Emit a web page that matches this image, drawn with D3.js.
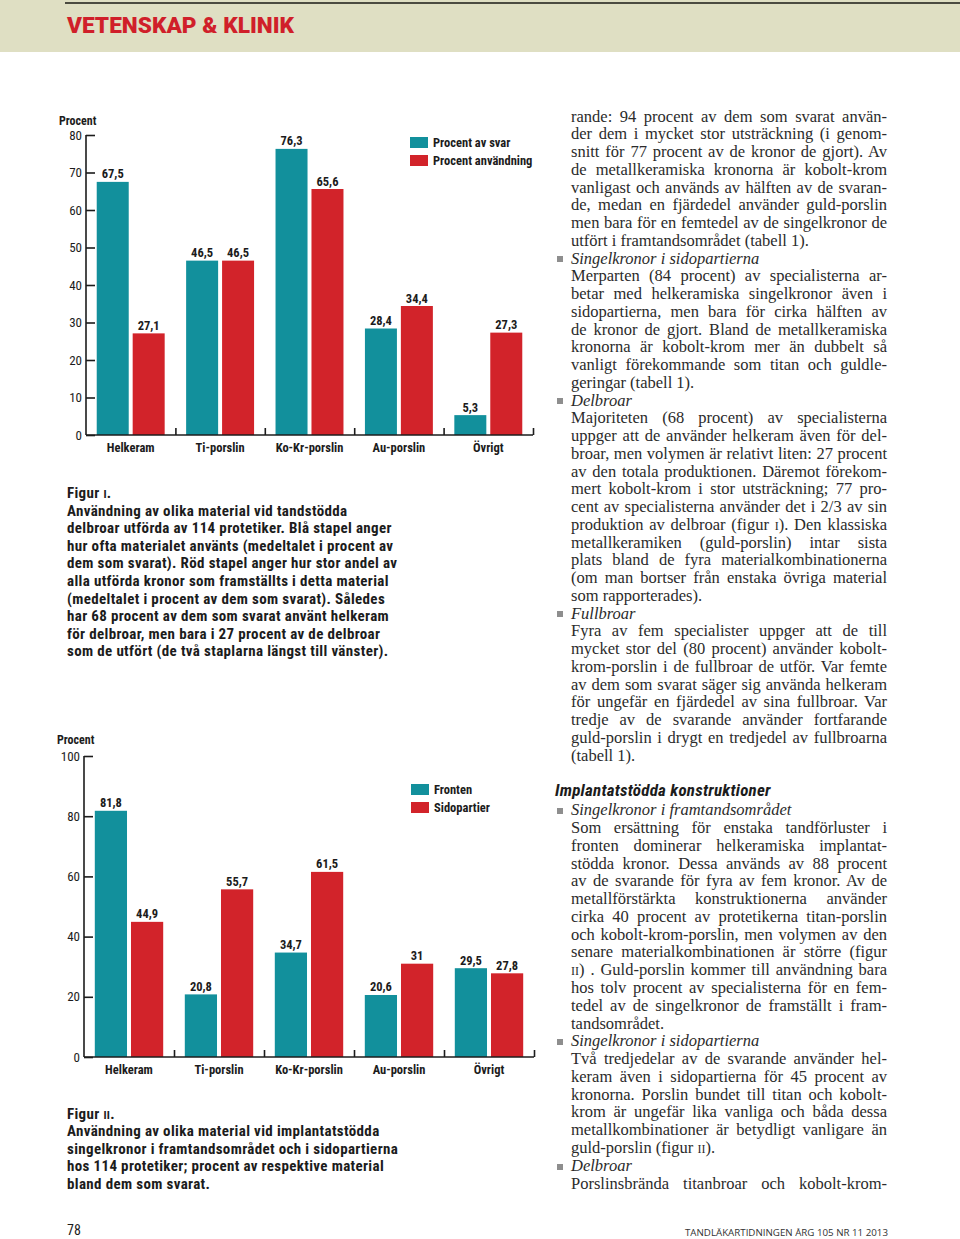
<!DOCTYPE html>
<html><head><meta charset="utf-8">
<script src="https://cdn.jsdelivr.net/npm/d3@7"></script>
<style>
body{margin:0;background:#fff;}
#page{position:relative;width:960px;height:1239px;overflow:hidden;background:#fff;}
svg{position:absolute;left:0;top:0;}
.ln{position:absolute;left:571px;width:316px;font-family:'Liberation Serif','Times New Roman',serif;font-size:16.5px;color:#2b2b2b;white-space:nowrap;line-height:18px;height:18px;}
.j{text-align:justify;text-align-last:justify;}
.it{font-style:italic;}
.sc{font-variant:small-caps;}
.bul{position:absolute;left:557px;width:6px;height:6px;background:#8e8e8e;}
</style></head>
<body><div id="page"><svg id="svg" width="960" height="1239"></svg></div>
<script>
// ---------- data ----------
const categories = ["Helkeram","Ti-porslin","Ko-Kr-porslin","Au-porslin","Övrigt"];
const fig1Series = ["Procent av svar","Procent användning"];
const fig1Svar = [67.5,46.5,76.3,28.4,5.3];
const fig1Anvandning = [27.1,46.5,65.6,34.4,27.3];
const fig1Ticks = [0,10,20,30,40,50,60,70,80];
const fig2Series = ["Fronten","Sidopartier"];
const fig2Fronten = [81.8,20.8,34.7,20.6,29.5];
const fig2Sidopartier = [44.9,55.7,61.5,31,27.8];
const fig2Ticks = [0,20,40,60,80,100];

const fig1Caption = ["Användning av olika material vid tandstödda",
 "delbroar utförda av 114 protetiker. Blå stapel anger",
 "hur ofta materialet använts (medeltalet i procent av",
 "dem som svarat). Röd stapel anger hur stor andel av",
 "alla utförda kronor som framställts i detta material",
 "(medeltalet i procent av dem som svarat). Således",
 "har 68 procent av dem som svarat använt helkeram",
 "för delbroar, men bara i 27 procent av de delbroar",
 "som de utfört (de två staplarna längst till vänster)."];
const fig2Caption = ["Användning av olika material vid implantatstödda",
 "singelkronor i framtandsområdet och i sidopartierna",
 "hos 114 protetiker; procent av respektive material",
 "bland dem som svarat."];

const block1 = [
 ["j","rande: 94 procent av dem som svarat använ-"],
 ["j","der dem i mycket stor utsträckning (i genom-"],
 ["j","snitt för 77 procent av de kronor de gjort). Av"],
 ["j","de metallkeramiska kronorna är kobolt-krom"],
 ["j","vanligast och används av hälften av de svaran-"],
 ["j","de, medan en fjärdedel använder guld-porslin"],
 ["j","men bara för en femtedel av de singelkronor de"],
 ["l","utfört i framtandsområdet (tabell 1)."],
 ["h","Singelkronor i sidopartierna"],
 ["j","Merparten (84 procent) av specialisterna ar-"],
 ["j","betar med helkeramiska singelkronor även i"],
 ["j","sidopartierna, men bara för cirka hälften av"],
 ["j","de kronor de gjort. Bland de metallkeramiska"],
 ["j","kronorna är kobolt-krom mer än dubbelt så"],
 ["j","vanligt förekommande som titan och guldle-"],
 ["l","geringar (tabell 1)."],
 ["h","Delbroar"],
 ["j","Majoriteten (68 procent) av specialisterna"],
 ["j","uppger att de använder helkeram även för del-"],
 ["j","broar, men volymen är relativt liten: 27 procent"],
 ["j","av den totala produktionen. Däremot förekom-"],
 ["j","mert kobolt-krom i stor utsträckning; 77 pro-"],
 ["j","cent av specialisterna använder det i 2/3 av sin"],
 ["j","produktion av delbroar (figur <span class='sc'>i</span>). Den klassiska"],
 ["j","metallkeramiken (guld-porslin) intar sista"],
 ["j","plats bland de fyra materialkombinationerna"],
 ["j","(om man bortser från enstaka övriga material"],
 ["l","som rapporterades)."],
 ["h","Fullbroar"],
 ["j","Fyra av fem specialister uppger att de till"],
 ["j","mycket stor del (80 procent) använder kobolt-"],
 ["j","krom-porslin i de fullbroar de utför. Var femte"],
 ["j","av dem som svarat säger sig använda helkeram"],
 ["j","för ungefär en fjärdedel av sina fullbroar. Var"],
 ["j","tredje av de svarande använder fortfarande"],
 ["j","guld-porslin i drygt en tredjedel av fullbroarna"],
 ["l","(tabell 1)."]
];
const block2 = [
 ["h","Singelkronor i framtandsområdet"],
 ["j","Som ersättning för enstaka tandförluster i"],
 ["j","fronten dominerar helkeramiska implantat-"],
 ["j","stödda kronor. Dessa används av 88 procent"],
 ["j","av de svarande för fyra av fem kronor. Av de"],
 ["j","metallförstärkta konstruktionerna använder"],
 ["j","cirka 40 procent av protetikerna titan-porslin"],
 ["j","och kobolt-krom-porslin, men volymen av den"],
 ["j","senare materialkombinationen är större (figur"],
 ["j","<span class='sc'>ii</span>) . Guld-porslin kommer till användning bara"],
 ["j","hos tolv procent av specialisterna för en fem-"],
 ["j","tedel av de singelkronor de framställt i fram-"],
 ["l","tandsområdet."],
 ["h","Singelkronor i sidopartierna"],
 ["j","Två tredjedelar av de svarande använder hel-"],
 ["j","keram även i sidopartierna för 45 procent av"],
 ["j","kronorna. Porslin bundet till titan och kobolt-"],
 ["j","krom är ungefär lika vanliga och båda dessa"],
 ["j","metallkombinationer är betydligt vanligare än"],
 ["l","guld-porslin (figur <span class='sc'>ii</span>)."],
 ["h","Delbroar"],
 ["j","Porslinsbrända titanbroar och kobolt-krom-"]
];

// ---------- styles ----------
const TEAL = "#12909c", RED = "#d2232a", INK = "#1c1c1c";
const CF = "'Liberation Sans Narrow','Arial Narrow','Roboto Condensed','Open Sans',sans-serif";

const svg = d3.select("#svg");

// header
svg.append("rect").attr("x",0).attr("y",0).attr("width",960).attr("height",52).attr("fill","#dfdfc3");
svg.append("line").attr("x1",65).attr("x2",960).attr("y1",3).attr("y2",3).attr("stroke","#4b4b40").attr("stroke-width",2);
svg.append("text").attr("x",67).attr("y",33).text("VETENSKAP & KLINIK")
  .attr("font-family","Roboto, 'DejaVu Sans', sans-serif").attr("font-weight",900).attr("font-size",22)
  .attr("fill","#d01f2a").attr("textLength",227).attr("lengthAdjust","spacingAndGlyphs");

function fmt(v){ return String(v).replace(".",","); }

function drawChart(cfg){
  const g = svg.append("g");
  const y = d3.scaleLinear().domain([0,cfg.max]).range([cfg.yb, cfg.yt]);
  const x = d3.scaleBand().domain(categories).range([cfg.x0,cfg.x1]).padding(0);
  const bw = x.bandwidth();
  const xs = d3.scaleBand().domain(cfg.series).range([bw*0.12, bw*0.88]).paddingInner(0.11);
  const data = categories.map((c,i)=>({c, vals: cfg.series.map((s,k)=>({s, v: cfg.values[k][i]}))}));
  const colors = d3.scaleOrdinal().domain(cfg.series).range([TEAL,RED]);

  const grp = g.selectAll("g.grp").data(data).join("g").attr("transform",d=>`translate(${x(d.c)},0)`);
  grp.selectAll("rect").data(d=>d.vals).join("rect")
    .attr("x",d=>xs(d.s)).attr("y",d=>y(d.v)).attr("width",xs.bandwidth()).attr("height",d=>y(0)-y(d.v))
    .attr("fill",d=>colors(d.s));
  grp.selectAll("text.val").data(d=>d.vals).join("text").attr("class","val")
    .attr("x",d=>xs(d.s)+xs.bandwidth()/2).attr("y",d=>y(d.v)-3.5)
    .attr("text-anchor","middle").attr("font-family",CF).attr("font-weight",700).attr("font-size",12.5)
    .attr("fill",INK).text(d=>fmt(d.v));

  // y axis
  const ya = g.append("g").attr("transform",`translate(${cfg.x0},0)`)
    .call(d3.axisRight(y).tickValues(cfg.ticks).tickSize(9).tickFormat(""));
  ya.select(".domain").attr("stroke",INK).attr("stroke-width",1.6).attr("d",`M0,${cfg.yb}V${cfg.yt}`);
  ya.selectAll(".tick line").attr("stroke",INK).attr("stroke-width",1.6);
  g.selectAll("text.yl").data(cfg.ticks).join("text").attr("class","yl")
    .attr("x",cfg.x0-4).attr("y",d=>y(d)+4.5).attr("text-anchor","end")
    .attr("font-family",CF).attr("font-weight",400).attr("font-size",13).attr("fill",INK).text(d=>d);
  g.append("text").attr("x",cfg.titleX).attr("y",cfg.titleY).text("Procent")
    .attr("font-family",CF).attr("font-weight",700).attr("font-size",12).attr("fill",INK);

  // x axis
  const xa = g.append("g").attr("transform",`translate(0,${cfg.yb})`)
    .call(d3.axisTop(d3.scaleLinear().domain([0,categories.length]).range([cfg.x0,cfg.x1]))
      .tickValues(d3.range(1,categories.length+1)).tickSize(7).tickFormat(""));
  xa.select(".domain").attr("stroke",INK).attr("stroke-width",1.6).attr("d",`M${cfg.x0},0H${cfg.x1}`);
  xa.selectAll(".tick line").attr("stroke",INK).attr("stroke-width",1.6);
  g.selectAll("text.cat").data(categories).join("text").attr("class","cat")
    .attr("x",d=>x(d)+bw/2).attr("y",cfg.yb+17).attr("text-anchor","middle")
    .attr("font-family",CF).attr("font-weight",700).attr("font-size",12.5).attr("fill",INK).text(d=>d);

  // legend
  const lg = g.selectAll("g.lg").data(cfg.series).join("g").attr("class","lg")
    .attr("transform",(d,i)=>`translate(${cfg.lx},${cfg.ly+i*18})`);
  lg.append("rect").attr("width",18).attr("height",11).attr("fill",d=>colors(d));
  lg.append("text").attr("x",23).attr("y",10).attr("font-family",CF).attr("font-weight",700)
    .attr("font-size",12.5).attr("fill",INK).text(d=>d);
}

drawChart({x0:86,x1:533,yb:435,yt:135,max:80,ticks:fig1Ticks,series:fig1Series,
  values:[fig1Svar,fig1Anvandning],lx:410,ly:137,titleX:59,titleY:125});
drawChart({x0:84,x1:534,yb:1057,yt:756,max:100,ticks:fig2Ticks,series:fig2Series,
  values:[fig2Fronten,fig2Sidopartier],lx:411,ly:784,titleX:57,titleY:744});

// captions
function caption(title, roman, lines, y0){
  const t = svg.append("text").attr("x",67).attr("y",y0).attr("font-family",CF).attr("font-weight",700)
    .attr("font-size",15).attr("letter-spacing",0.35).attr("fill",INK);
  t.append("tspan").text(title+" ");
  t.append("tspan").attr("font-size",11.5).text(roman);
  t.append("tspan").text(".");
  svg.selectAll(null).data(lines).join("text").attr("x",67).attr("y",(d,i)=>y0+17.6*(i+1))
    .attr("font-family",CF).attr("font-weight",700).attr("font-size",15).attr("letter-spacing",0.35)
    .attr("fill",INK).text(d=>d);
}
caption("Figur","I",fig1Caption,498);
caption("Figur","II",fig2Caption,1118.5);

svg.append("text").attr("x",67).attr("y",1235).text("78").attr("font-family",CF)
  .attr("font-size",14).attr("fill",INK);
svg.append("text").attr("x",685).attr("y",1236).text("TANDLÄKARTIDNINGEN ÅRG 105 NR 11 2013")
  .attr("font-family","'Open Sans',sans-serif").attr("font-size",9.5).attr("fill","#333")
  .attr("textLength",203).attr("lengthAdjust","spacingAndGlyphs");

svg.append("text").attr("x",555).attr("y",796).text("Implantatstödda konstruktioner")
  .attr("font-family",CF).attr("font-weight",700).attr("font-style","italic").attr("font-size",17)
  .attr("letter-spacing",0.25).attr("fill",INK);

// article text
const page = d3.select("#page");
function block(lines, c0, step){
  lines.forEach((l,i)=>{
    const center = c0 + i*step;
    page.append("div").attr("class","ln"+(l[0]==="j"?" j":"")+(l[0]==="h"?" it":""))
      .style("top",(center-9.8)+"px").html(l[1]);
    if(l[0]==="h") page.append("div").attr("class","bul").style("top",(center-3)+"px");
  });
}
block(block1,117.3,17.75);
block(block2,811,17.78);
</script></body></html>
